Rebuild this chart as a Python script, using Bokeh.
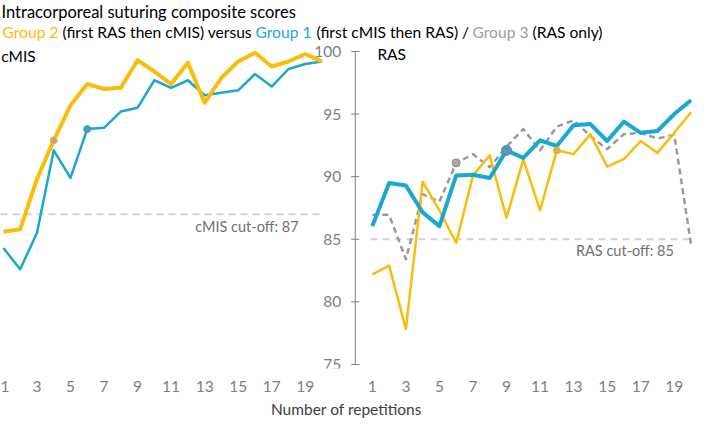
from bokeh.plotting import figure
from bokeh.models import Label, FixedTicker
from bokeh.core.properties import value
from bokeh.embed import file_html
from bokeh.resources import INLINE

# ---------------- data ----------------
reps = list(range(1, 21))
tick_reps = [1, 3, 5, 7, 9, 11, 13, 15, 17, 19]
y_ticks = [75, 80, 85, 90, 95, 100]

cmis_group2 = [85.6, 85.8, 89.8, 92.9, 95.7, 97.4, 97.0, 97.1, 99.3, 98.4,
               97.4, 99.1, 95.9, 97.9, 99.2, 99.9, 98.8, 99.2, 99.8, 99.2]
cmis_group1 = [84.3, 82.6, 85.5, 92.1, 89.9, 93.8, 93.9, 95.2, 95.5, 97.7,
               97.1, 97.7, 96.5, 96.7, 96.9, 98.2, 97.2, 98.6, 99.0, 99.2]

ras_group1 = [86.05, 89.5, 89.3, 87.15, 86.05, 90.1, 90.15, 89.9, 92.1, 91.5,
              92.9, 92.45, 94.1, 94.2, 92.85, 94.4, 93.5, 93.65, 95.0, 96.1]
ras_group2 = [82.2, 82.9, 77.85, 89.6, 87.3, 84.7, 90.1, 91.7, 86.7, 91.4,
              87.3, 92.1, 91.8, 93.4, 90.8, 91.4, 92.85, 91.9, 93.5, 95.15]
ras_group3 = [86.95, 86.95, 83.4, 88.6, 88.0, 91.1, 91.8, 90.75, 92.4, 93.8,
              92.1, 94.0, 94.5, 93.25, 92.2, 93.4, 93.5, 93.05, 93.35, 84.6]

cmis_cutoff = 87
ras_cutoff = 85

# repetition at which each curve is marked
cmis_group2_mark = 4
cmis_group1_mark = 6
ras_group3_mark = 6
ras_group1_mark = 9
ras_group2_mark = 12

# ---------------- style ----------------
ORANGE = "#F9BD0B"
BLUE = "#18A8D2"
GRAY = "#9A9A9A"
CUT = "#D3D3D3"
TICK = "#808080"
FONT = "Lato"

OFF = 22          # horizontal offset of RAS panel
AXIS_X = 21.98    # middle y axis position
FRAME_H = 368

p = figure(frame_width=692, frame_height=FRAME_H,
           x_range=(0.827, 42.09), y_range=(74.68, 104.07),
           output_backend="svg", toolbar_location=None,
           min_border=0, y_axis_location=None)
p.xgrid.visible = False
p.ygrid.visible = False
p.outline_line_color = None
p.background_fill_color = "white"

ras_x = [r + OFF for r in reps]

# cut-off lines
p.line([reps[0] - 0.17, reps[-1] + 0.06], [cmis_cutoff, cmis_cutoff],
       line_color=CUT, line_width=2, line_dash="7 5")
p.line([ras_x[0] - 0.1, ras_x[-1] + 0.09], [ras_cutoff, ras_cutoff],
       line_color=CUT, line_width=2, line_dash="7 5")

# cMIS panel
p.line(reps, cmis_group1, line_color=BLUE, line_width=2.5, line_join="round")
p.line(reps, cmis_group2, line_color=ORANGE, line_width=4, line_join="round")

# RAS panel
p.line(ras_x, ras_group3, line_color=GRAY, line_width=2.5, line_dash="6 4",
       line_join="round")
p.line(ras_x, ras_group2, line_color=ORANGE, line_width=2.5, line_join="round")
p.line(ras_x, ras_group1, line_color=BLUE, line_width=4, line_join="round")

# markers
def mark(xs, ys, rep, fill, line, size):
    i = reps.index(rep)
    p.scatter([xs[i]], [ys[i]], size=size, fill_color=fill, line_color=line,
              line_width=1)

mark(reps, cmis_group2, cmis_group2_mark, "#B8A68A", ORANGE, 7)
mark(reps, cmis_group1, cmis_group1_mark, "#5C97B0", BLUE, 7)
mark(ras_x, ras_group3, ras_group3_mark, "#A8A8A8", "#8C8C8C", 8)
mark(ras_x, ras_group1, ras_group1_mark, "#5A98B4", "#4A90B0", 10)
mark(ras_x, ras_group2, ras_group2_mark, "#CDB060", ORANGE, 7)

# middle y axis
p.segment(x0=[AXIS_X], y0=[y_ticks[0]], x1=[AXIS_X], y1=[y_ticks[-1]],
          line_color=TICK, line_width=1)
p.segment(x0=[AXIS_X - 0.24] * len(y_ticks), y0=y_ticks,
          x1=[AXIS_X + 0.24] * len(y_ticks), y1=y_ticks,
          line_color=TICK, line_width=1)
p.text(x=[AXIS_X] * len(y_ticks), y=y_ticks, text=[str(t) for t in y_ticks],
       x_offset=-14, text_align="right", text_baseline="middle",
       text_color=TICK, text_font=value(FONT), text_font_size="15.5px")

# x axis
ticks = tick_reps + [t + OFF for t in tick_reps]
p.xaxis.ticker = FixedTicker(ticks=ticks)
p.xaxis.major_label_overrides = {t + OFF: str(t) for t in tick_reps} | {t: str(t) for t in tick_reps}
p.xaxis.axis_line_color = None
p.xaxis.major_tick_line_color = None
p.xaxis.minor_tick_line_color = None
p.xaxis.major_label_standoff = 6
p.xaxis.major_label_text_color = TICK
p.xaxis.major_label_text_font = FONT
p.xaxis.major_label_text_font_size = "15.5px"
p.xaxis.axis_label = "Number of repetitions"
p.xaxis.axis_label_text_font = FONT
p.xaxis.axis_label_text_font_size = "15.5px"
p.xaxis.axis_label_text_font_style = "normal"
p.xaxis.axis_label_text_color = "#404040"
p.xaxis.axis_label_standoff = 5

# cut-off labels
p.add_layout(Label(x=18.6, y=cmis_cutoff - 1.0, text="cMIS cut-off: 87",
                   text_align="right", text_baseline="middle",
                   text_color="#707070", text_font=FONT, text_font_size="14.5px"))
p.add_layout(Label(x=18.98 + OFF, y=ras_cutoff - 0.93, text="RAS cut-off: 85",
                   text_align="right", text_baseline="middle",
                   text_color="#707070", text_font=FONT, text_font_size="14.5px"))

# panel labels
p.add_layout(Label(x=0.87, y=99.6, text="cMIS", text_baseline="middle",
                   text_color="black", text_font=FONT, text_font_size="15.5px"))
p.add_layout(Label(x=1.3 + OFF, y=99.77, text="RAS", text_baseline="middle",
                   text_color="black", text_font=FONT, text_font_size="15.5px"))

# titles (screen units relative to frame)
p.add_layout(Label(x=1, y=FRAME_H - 11, x_units="screen", y_units="screen",
                   text="Intracorporeal suturing composite scores",
                   text_baseline="middle", text_color="black",
                   text_font=FONT, text_font_size="16.5px"))
segments = [
    (2, "Group 2", ORANGE),
    (62, "(first RAS then cMIS) versus", "black"),
    (255, "Group 1", BLUE),
    (316, "(first cMIS then RAS) /", "black"),
    (472, "Group 3", "#A0A0A0"),
    (532, "(RAS only)", "black"),
]
for sx, txt, col in segments:
    p.add_layout(Label(x=sx, y=FRAME_H - 31, x_units="screen", y_units="screen",
                       text=txt, text_baseline="middle", text_color=col,
                       text_font=FONT, text_font_size="15.6px"))

open("out.html", "w").write(file_html(p, INLINE))
